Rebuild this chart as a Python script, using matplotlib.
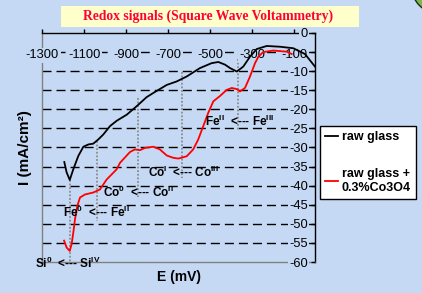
import matplotlib.pyplot as plt
from matplotlib.patches import Rectangle, Ellipse
from matplotlib.lines import Line2D

# square wave voltammetry, potential in mV, current density in mA/cm2
e_raw = [-1196, -1185, -1170, -1153, -1129, -1105, -1081, -1058, -1034, -1010,
         -978, -946, -898, -851, -803, -771, -707, -660, -612, -549, -493, -461,
         -429, -405, -373, -342, -310, -278, -230, -167, -103, -48, 0]
i_raw = [-33.8, -36.5, -38.5, -35.7, -32.2, -29.8, -29.2, -29.0, -27.9, -26.6,
         -24.4, -23.0, -21.4, -19.2, -16.8, -15.7, -13.6, -12.7, -11.4, -9.2, -7.9, -7.6,
         -8.3, -9.2, -10.1, -8.8, -6.2, -4.2, -3.4, -3.6, -4.0, -5.5, -8.8]

e_co = [-1197, -1185, -1170, -1161, -1153, -1145, -1134, -1121, -1097, -1058, -1026,
        -994, -946, -930, -883, -859, -835, -811, -771, -740, -707, -676, -652, -612,
        -581, -557, -533, -509, -485, -453, -421, -397, -373, -358, -334, -310, -286,
        -270, -247, -199, -135, -111]
i_co = [-54.4, -56.2, -57.1, -55.3, -52.3, -48.8, -45.3, -43.1, -42.3, -41.8, -41.0,
        -38.4, -35.7, -34.0, -31.2, -30.5, -30.7, -30.1, -29.8, -30.5, -32.1, -32.7, -32.9, -32.3,
        -30.5, -27.9, -24.4, -20.9, -17.9, -16.5, -14.9, -14.4, -14.7, -15.3, -14.4, -11.4, -7.9,
        -6.2, -5.0, -4.6, -4.9, -5.5]

x_ticks = [-1300, -1100, -900, -700, -500, -300, -100]
y_ticks = list(range(0, -65, -5))

# dotted markers at the redox peaks
peak_e = [-1170, -1040, -843, -633, -366]
peak_top = [-38.5, -28.4, -17.0, -10.1, -6.9]
peak_bottom = [-60.5, -49.3, -43.0, -38.0, -25.3]

peak_labels = [r"Si$^{\mathbf{0}}$  <--- Si$^{\mathbf{IV}}$",
               r"Fe$^{\mathbf{0}}$  <--- Fe$^{\mathbf{II}}$",
               r"Co$^{\mathbf{0}}$  <--- Co$^{\mathbf{II}}$",
               r"Co$^{\mathbf{I}}$  <--- Co$^{\mathbf{III}}$",
               r"Fe$^{\mathbf{II}}$  <--- Fe$^{\mathbf{III}}$"]
label_e = [-1336, -1202, -1011, -797, -525]
label_i = [-60.3, -47.0, -41.7, -36.5, -23.2]

bg = "#C5D9F5"

plt.rcParams["font.family"] = "Liberation Sans"
plt.rcParams["mathtext.fontset"] = "custom"
plt.rcParams["mathtext.rm"] = "Liberation Sans"
plt.rcParams["mathtext.bf"] = "Liberation Sans:bold"
plt.rcParams["axes.unicode_minus"] = False

fig = plt.figure(figsize=(4.22, 2.93), dpi=100, facecolor=bg)
ax = fig.add_axes([0.1007, 0.1058, 0.6457, 0.7816])
ax.set_facecolor(bg)
ax.set_xlim(-1300, 0)
ax.set_ylim(-60, 0)
ax.set_axisbelow(False)

for v in y_ticks[1:-1]:
    ax.axhline(v, color="black", lw=1.0, dashes=(6.5, 3.6), zorder=1)

for e, top, bot in zip(peak_e, peak_top, peak_bottom):
    ax.plot([e, e], [top, bot], color="#8C8C8C", lw=1.3, ls=(0, (1, 1)), zorder=1.5,
            clip_on=False)

ax.plot(e_raw, i_raw, color="black", lw=1.3, zorder=3)
ax.plot(e_co, i_co, color="red", lw=1.3, zorder=3)

for txt, e, i in zip(peak_labels, label_e, label_i):
    ax.text(e, i, txt, fontsize=8.5, fontweight="bold", ha="left", va="center",
            zorder=4, clip_on=False)

for side in ["left", "bottom"]:
    ax.spines[side].set_color("#808080")
for side in ["top", "right"]:
    ax.spines[side].set_color("black")
for s in ax.spines.values():
    s.set_linewidth(1.0)

ax.xaxis.tick_top()
ax.set_xticks(x_ticks)
ax.tick_params(axis="x", direction="out", length=3, width=1, pad=-19, labelsize=9.3)
for lbl in ax.get_xticklabels():
    lbl.set_va("center")
    lbl.set_bbox(dict(facecolor=bg, edgecolor="none", pad=1))
ax.xaxis.set_zorder(2.7)

ax.yaxis.tick_right()
ax.set_yticks(y_ticks)
ax.tick_params(axis="y", direction="in", length=3, width=1, pad=-5, labelsize=9.3)
for lbl in ax.get_yticklabels():
    lbl.set_ha("right")
    lbl.set_bbox(dict(facecolor=bg, edgecolor="none", pad=1))

ax.xaxis.set_label_position("bottom")
ax.set_xlabel("E (mV)", fontsize=10, fontweight="bold", labelpad=6)
ax.yaxis.set_label_position("left")
ax.set_ylabel("I (mA/cm²)", fontsize=11, fontweight="bold", labelpad=7.5)

# title banner
fig.patches.append(Rectangle((61 / 422, 1 - 26.7 / 293), 298 / 422, 21 / 293,
                             transform=fig.transFigure, facecolor="#FFFFCC",
                             edgecolor="none", zorder=0))
fig.text(208 / 422, 1 - 16 / 293, "Redox signals (Square Wave Voltammetry)",
         family="Liberation Serif", fontweight="bold", fontsize=9.8, color="#FF0033",
         ha="center", va="center")

# green corner decoration
fig.patches.append(Ellipse((440 / 422, 1 + 15 / 293), 58 / 422, 58 / 293,
                           transform=fig.transFigure, facecolor="#7DB84A",
                           edgecolor="#1E2A14", lw=1.0))

handles = [Line2D([], [], color="black", lw=1.3), Line2D([], [], color="red", lw=1.3)]
leg = fig.legend(handles, ["raw glass", "raw glass +\n0.3%Co3O4"], loc="upper left",
                 bbox_to_anchor=(320 / 422, 1 - 126 / 293), bbox_transform=fig.transFigure,
                 fancybox=False, edgecolor="black", facecolor="white", framealpha=1,
                 prop=dict(weight="bold", size=9), handlelength=1.0, handletextpad=0.35,
                 labelspacing=2.0, borderpad=0.4, borderaxespad=0)
leg.get_frame().set_linewidth(1.0)

fig.savefig("out.png", dpi=100, facecolor=bg)
